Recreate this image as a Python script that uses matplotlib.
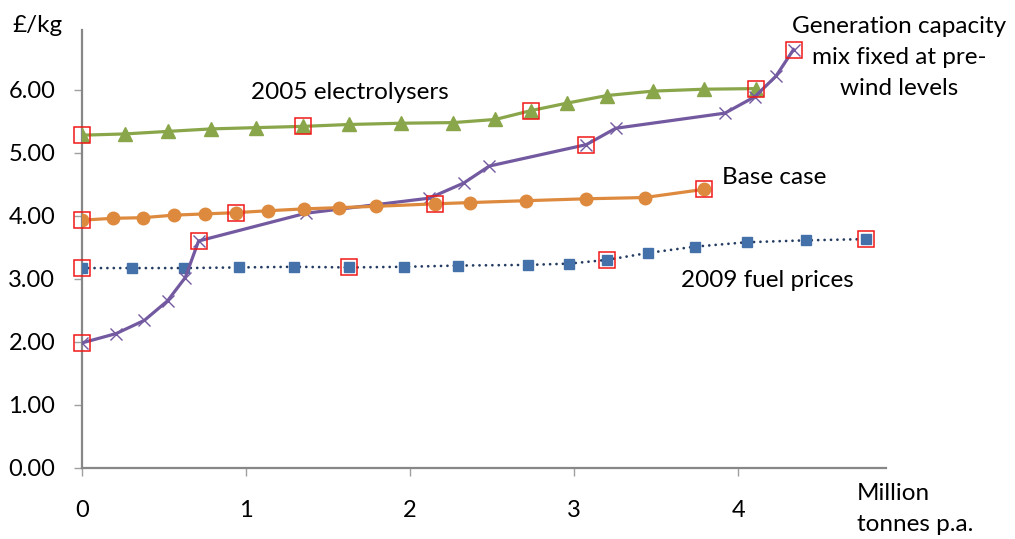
#!/usr/bin/env python3
"""Hydrogen production cost versus annual output, four scenarios."""

import matplotlib

matplotlib.use('Agg')
from matplotlib import pyplot as plt  # noqa: E402


# Output [million tonnes p.a.] and cost [GBP/kg] per scenario
electrolysers_x = [0, 0.264, 0.523, 0.79, 1.063, 1.347, 1.63, 1.944,
                   2.263, 2.52, 2.736, 2.958, 3.2, 3.48, 3.79, 4.11]
electrolysers_y = [5.28, 5.30, 5.34, 5.38, 5.40, 5.42, 5.45, 5.47,
                   5.48, 5.53, 5.67, 5.79, 5.91, 5.98, 6.01, 6.02]

base_x = [0, 0.189, 0.372, 0.56, 0.749, 0.942, 1.133, 1.357,
          1.57, 1.79, 2.151, 2.367, 2.707, 3.074, 3.43, 3.79]
base_y = [3.93, 3.96, 3.97, 4.01, 4.03, 4.05, 4.08, 4.11,
          4.13, 4.15, 4.19, 4.21, 4.24, 4.27, 4.29, 4.42]

prewind_x = [0, 0.21, 0.382, 0.523, 0.631, 0.712, 1.364, 2.117,
             2.327, 2.483, 3.074, 3.253, 3.918, 4.10, 4.23, 4.336]
prewind_y = [1.98, 2.13, 2.34, 2.65, 3.02, 3.60, 4.04, 4.28,
             4.52, 4.79, 5.13, 5.39, 5.63, 5.89, 6.22, 6.64]

fuel2009_x = [0, 0.305, 0.625, 0.961, 1.292, 1.628, 1.963, 2.294,
              2.717, 2.966, 3.2, 3.45, 3.735, 4.05, 4.41, 4.78]
fuel2009_y = [3.17, 3.17, 3.17, 3.18, 3.19, 3.18, 3.19, 3.21,
              3.22, 3.24, 3.30, 3.41, 3.51, 3.58, 3.61, 3.63]

x_ticks = [0, 1, 2, 3, 4]
y_ticks = [0, 1, 2, 3, 4, 5, 6]

GREEN = '#8aa64a'
ORANGE = '#de8a3e'
PURPLE = '#7359a0'
BLUE = '#4471a9'
NAVY = '#243c62'
AXIS_GREY = '#878787'
FONT_SIZE = 17.5


def main() -> None:
    plt.rcParams.update({
        'font.family': ['Lato', 'DejaVu Sans'],
        'font.size': FONT_SIZE,
    })
    fig = plt.figure(figsize=(10.15, 5.39), dpi=100)
    ax = fig.add_axes([0.0805, 0.1323, 0.7925, 0.812])

    ax.plot(fuel2009_x, fuel2009_y, color=NAVY, linewidth=2.0,
            linestyle=(0, (0.01, 2.3)), dash_capstyle='round',
            marker='s', markersize=6.5, markerfacecolor=BLUE,
            markeredgecolor=BLUE, zorder=3)
    ax.plot(electrolysers_x, electrolysers_y, color=GREEN, linewidth=2.3,
            marker='^', markersize=10, markerfacecolor=GREEN,
            markeredgecolor=GREEN, zorder=3)
    ax.plot(prewind_x, prewind_y, color=PURPLE, linewidth=2.3,
            marker='x', markersize=8.5, markeredgewidth=1.0,
            markeredgecolor=PURPLE, zorder=3)
    ax.plot(base_x, base_y, color=ORANGE, linewidth=2.3,
            marker='o', markersize=9, markerfacecolor=ORANGE,
            markeredgecolor=ORANGE, zorder=3)

    # every fifth point is boxed in red
    for xs, ys in ((fuel2009_x, fuel2009_y), (electrolysers_x, electrolysers_y),
                   (prewind_x, prewind_y), (base_x, base_y)):
        ax.plot(xs[::5], ys[::5], linestyle='none', marker='s',
                markersize=11, markerfacecolor='none',
                markeredgecolor='#f01818', markeredgewidth=1.1,
                zorder=5, clip_on=False)

    ax.set_xlim(0, 4.9)
    ax.set_ylim(0, 6.95)
    ax.set_xticks(x_ticks)
    ax.set_xticklabels([str(t) for t in x_ticks])
    ax.set_yticks(y_ticks)
    ax.set_yticklabels([f'{t:.2f}' for t in y_ticks])

    for side in ('top', 'right'):
        ax.spines[side].set_visible(False)
    for side in ('left', 'bottom'):
        ax.spines[side].set_color(AXIS_GREY)
        ax.spines[side].set_linewidth(1.6)
    ax.tick_params(axis='both', color='#a0a0a0', width=1.0, length=6,
                   labelsize=17, labelcolor='black')
    ax.tick_params(axis='x', pad=17)
    ax.tick_params(axis='y', pad=13)

    ax.text(1.03, 5.96, '2005 electrolysers', ha='left', va='center')
    ax.text(3.90, 4.61, 'Base case', ha='left', va='center')
    ax.text(3.65, 2.98, '2009 fuel prices', ha='left', va='center')
    ax.text(4.98, 6.51, 'Generation capacity\nmix fixed at pre-\nwind levels',
            ha='center', va='center', linespacing=1.6, clip_on=False)

    fig.text(12 / 1015, 1 - 25 / 539, '£/kg', ha='left', va='center')
    fig.text(857 / 1015, 1 - 509 / 539, 'Million\ntonnes p.a.', ha='left',
             va='center', linespacing=1.6)

    fig.savefig('out.png', dpi=100)
    plt.close(fig)


if __name__ == '__main__':
    main()
